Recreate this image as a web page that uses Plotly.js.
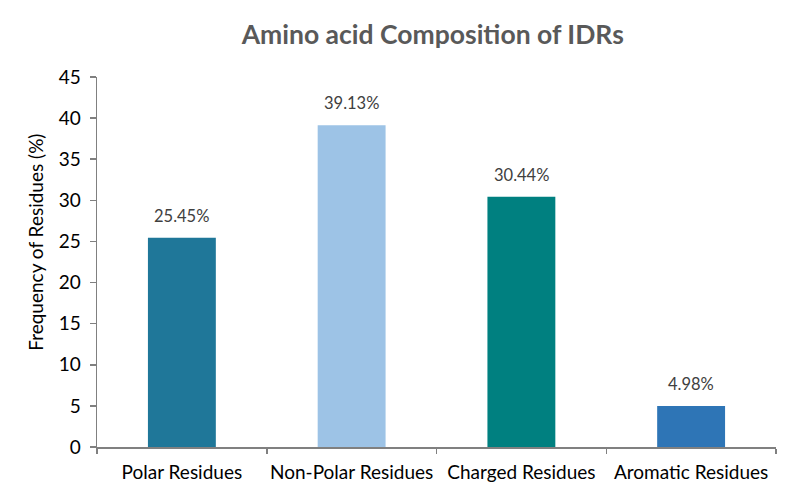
<!DOCTYPE html>
<html>
<head>
<meta charset="utf-8">
<script src="https://cdn.plot.ly/plotly-3.0.1.min.js"></script>
<style>
    html, body { margin: 0; padding: 0; background: #ffffff; }
    #chart { width: 797px; height: 499px; }
</style>
</head>
<body>
<div id="chart"></div>
<script>
const categories = ["Polar Residues", "Non-Polar Residues", "Charged Residues", "Aromatic Residues"];
const frequencies = [25.45, 39.13, 30.44, 4.98];
const barColors = ["#1f7799", "#9dc3e6", "#008080", "#2e75b6"];
const yTicks = [0, 5, 10, 15, 20, 25, 30, 35, 40, 45];

const fontFamily = "Lato, \"Open Sans\", \"DejaVu Sans\", sans-serif";

const trace = {
    type: "bar",
    x: categories,
    y: frequencies,
    width: 0.4,
    marker: { color: barColors },
    hoverinfo: "x+y",
};

// value labels sit a little higher above the bars than plotly's own outside text
const valueLabels = categories.map((cat, i) => ({
    x: cat,
    y: frequencies[i],
    text: frequencies[i].toFixed(2) + "%",
    showarrow: false,
    yanchor: "bottom",
    yshift: 10,
    font: { family: fontFamily, size: 16.5, color: "#404040" },
}));

// the y title sits a bit above the middle of the axis, so it is drawn as an annotation
const yTitle = {
    xref: "paper",
    yref: "paper",
    x: 0,
    y: 0.552,
    xanchor: "center",
    yanchor: "middle",
    xshift: -61,
    textangle: -90,
    showarrow: false,
    text: "Frequency of Residues (%)",
    font: { family: fontFamily, size: 19, color: "#000000" },
};

Plotly.newPlot("chart", [trace], {
    width: 797,
    height: 499,
    margin: { t: 77, r: 21, b: 52, l: 97 },
    paper_bgcolor: "#ffffff",
    plot_bgcolor: "#ffffff",
    font: { family: fontFamily, color: "#000000", size: 18 },
    title: {
        text: "<b>Amino acid Composition of IDRs</b>",
        font: { family: fontFamily, size: 26.5, color: "#595959" },
        x: 0.543,
        xanchor: "center",
        y: 0.93,
        yanchor: "middle",
    },
    showlegend: false,
    bargap: 0.6,
    annotations: valueLabels.concat([yTitle]),
    xaxis: {
        showline: true,
        linecolor: "#808080",
        linewidth: 1.5,
        ticks: "outside",
        tickson: "boundaries",
        ticklen: 5,
        tickcolor: "#808080",
        tickwidth: 1.5,
        tickangle: 0,
        automargin: false,
        ticklabelstandoff: 8,
        tickfont: { family: fontFamily, size: 19, color: "#000000" },
        showgrid: false,
        zeroline: false,
    },
    yaxis: {
        range: [0, 45],
        tickvals: yTicks,
        ticktext: yTicks.map(String),
        showline: true,
        linecolor: "#808080",
        linewidth: 1.5,
        ticks: "outside",
        ticklen: 6,
        tickcolor: "#808080",
        tickwidth: 1.5,
        ticklabelstandoff: 5,
        tickfont: { family: fontFamily, size: 19, color: "#000000" },
        showgrid: false,
        zeroline: false,
        automargin: false,
    },
}, { displayModeBar: false, staticPlot: true });
</script>
</body>
</html>
